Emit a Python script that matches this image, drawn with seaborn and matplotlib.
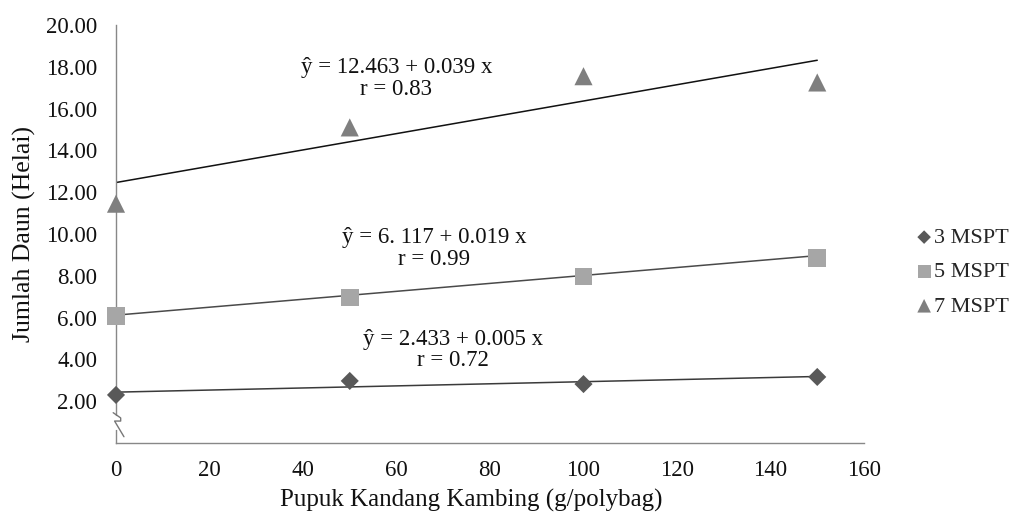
import matplotlib
matplotlib.use("Agg")
import matplotlib.pyplot as plt
import seaborn as sns
import numpy as np
import pandas as pd

doses = [0, 50, 100, 150]
mspt3 = [2.30, 2.97, 2.82, 3.16]
mspt5 = [6.08, 6.97, 7.97, 8.85]
mspt7 = [11.45, 15.10, 17.55, 17.25]
series_names = ["3 MSPT", "5 MSPT", "7 MSPT"]
intercepts = [2.433, 6.117, 12.463]
slopes = [0.005, 0.019, 0.039]
eq_texts = ["ŷ = 2.433 + 0.005 x\nr = 0.72",
            "ŷ = 6. 117 + 0.019 x\nr = 0.99",
            "ŷ = 12.463 + 0.039 x\nr = 0.83"]
eq_pos = [(72, 4.45), (68, 9.3), (60, 17.45)]
yticks = [0, 2, 4, 6, 8, 10, 12, 14, 16, 18, 20]
xticks = [0, 20, 40, 60, 80, 100, 120, 140, 160]

sns.set_theme(style="white")
plt.rcParams['font.family'] = ['Liberation Serif', 'DejaVu Serif']

df = pd.DataFrame({
    "x": doses * 3,
    "y": mspt3 + mspt5 + mspt7,
    "s": sum([[n] * 4 for n in series_names], []),
})

colors = {"3 MSPT": "#595959", "5 MSPT": "#A6A6A6", "7 MSPT": "#7F7F7F"}
markers = {"3 MSPT": "D", "5 MSPT": "s", "7 MSPT": "^"}
sizes = {"3 MSPT": 85, "5 MSPT": 160, "7 MSPT": 170}
line_cols = ["#3a3a3a", "#4a4a4a", "#111111"]

fig = plt.figure(figsize=(10.12, 5.13), dpi=100)
ax = fig.add_axes([116 / 1012, (513 - 443) / 513, (864 - 116) / 1012, (443 - 25) / 513])

for i, n in enumerate(series_names):
    sub = df[df.s == n]
    xs = np.array([0, 150])
    ax.plot(xs, intercepts[i] + slopes[i] * xs, color=line_cols[i], lw=1.1, zorder=2)
    sns.scatterplot(data=sub, x="x", y="y", marker=markers[n], color=colors[n],
                    s=sizes[n], edgecolor="none", ax=ax, zorder=3, label=n, clip_on=False)

for t, (px, py) in zip(eq_texts, eq_pos):
    ax.text(px, py, t, ha="center", va="center", fontsize=16.5, linespacing=1.03,
            multialignment="center", color="#111111")

ax.set_xlim(0, 160)
ax.set_ylim(0, 20)
ax.set_xticks(xticks)
ax.set_xticklabels([str(v) for v in xticks])
ax.set_yticks(yticks)
ax.set_yticklabels(["" if v == 0 else f"{v:.2f}" for v in yticks])
ax.tick_params(axis="both", direction="out", length=5.5, width=1, color="#888888",
               labelsize=16.5, labelcolor="#111111", pad=8)
ax.tick_params(axis="x", pad=7)
for sp in ["top", "right"]:
    ax.spines[sp].set_visible(False)
for sp in ["left", "bottom"]:
    ax.spines[sp].set_color("#888888")
    ax.spines[sp].set_linewidth(1)
ax.set_xlabel("Pupuk Kandang Kambing (g/polybag)", fontsize=18, color="#111111")
ax.xaxis.set_label_coords((471 - 116) / 748, -(507 - 443) / 418, transform=ax.transAxes)
ax.xaxis.label.set_va("baseline")
ax.set_ylabel("Jumlah Daun (Helai)", fontsize=18.5, labelpad=7, color="#111111")

# axis break symbol
ax.plot([-1.5, 1.5], [0.95, 0.95], color="white", lw=10, zorder=4, clip_on=False)
ax.plot([-0.6, 1.0, 1.0, -0.3, 1.7], [1.45, 1.2, 1.05, 1.05, 0.3], color="#777777",
        lw=1, zorder=5, clip_on=False)

leg = ax.legend(loc="center left", bbox_to_anchor=((913 - 116) / 748, (443 - 272) / 418),
                frameon=False, fontsize=16, handletextpad=-0.05, labelspacing=0.62,
                borderaxespad=0, borderpad=0, markerscale=0.75, handlelength=1.0)
fig.savefig("out.png", dpi=100, facecolor="white")
